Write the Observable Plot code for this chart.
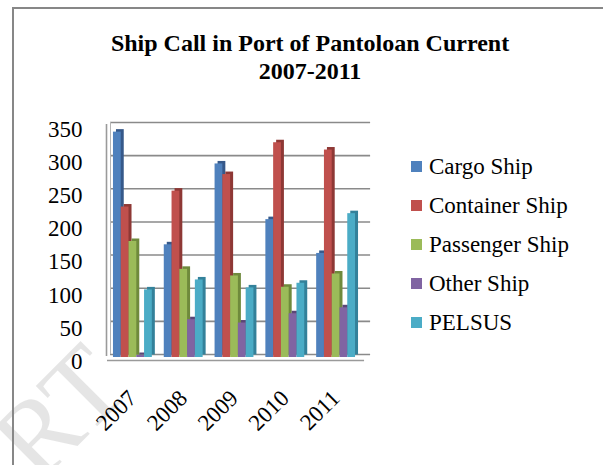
<!DOCTYPE html>
<html>
<head>
<meta charset="utf-8">
<script src="https://cdn.jsdelivr.net/npm/d3@7"></script>
<script src="https://cdn.jsdelivr.net/npm/@observablehq/plot@0.6"></script>
<style>
  html, body { margin: 0; padding: 0; background: #fff; }
  #page { position: relative; width: 603px; height: 465px; overflow: hidden; font-family: "Liberation Serif", "Times New Roman", serif; }
  #frame { position: absolute; left: 12px; top: 7px; width: 640px; height: 520px; border: 2px solid #878787; box-sizing: border-box; }
  #title { position: absolute; left: 110px; width: 400px; top: 30px; text-align: center; font-weight: bold; font-size: 24px; line-height: 27.5px; color: #000; }
  #chart { position: absolute; left: 0; top: 110px; }
  .leg { position: absolute; left: 411px; font-size: 23px; line-height: 23px; color: #000; white-space: nowrap; }
  .leg span.sw { position: absolute; left: 0; top: 6px; width: 11px; height: 11px; }
  .leg span.tx { position: absolute; left: 18px; top: 0; }
  #wm { position: absolute; left: -170px; top: 300px; font-size: 110px; color: rgba(0,0,0,0.10); transform: rotate(-45deg); transform-origin: 100% 80%; white-space: nowrap; width: 300px; text-align: right; line-height: 110px; }
</style>
</head>
<body>
<div id="page">
  <div id="wm">IJERT</div>
  <div id="frame"></div>
  <div id="title">Ship Call in Port of Pantoloan Current<br>2007-2011</div>
  <div id="chart"></div>
  <div id="legend"></div>
</div>
<script>
// ---- data ----
const years = ["2007", "2008", "2009", "2010", "2011"];
const series = ["Cargo Ship", "Container Ship", "Passenger Ship", "Other Ship", "PELSUS"];
const cargoShip = [340, 170, 292, 208, 157];
const containerShip = [227, 251, 276, 324, 313];
const passengerShip = [175, 133, 123, 106, 126];
const otherShip = [3, 57, 52, 66, 75];
const pelsus = [102, 117, 105, 112, 217];
const yTicks = [0, 50, 100, 150, 200, 250, 300, 350];

const colors = ["#4F81BD", "#C0504D", "#9BBB59", "#8064A2", "#4BACC6"];
const sideColors = ["#36598A", "#8E3835", "#6F8A3C", "#5B4677", "#33819A"];

const valuesBySeries = [cargoShip, containerShip, passengerShip, otherShip, pelsus];
const barW = 0.153; // fraction of a year group
const rows = [];
series.forEach((s, j) => {
  years.forEach((y, i) => {
    const x1 = i + (j - 2.5) * barW;
    rows.push({year: y, series: s, j, x1, x2: x1 + barW, value: valuesBySeries[j][i]});
  });
});

const chart = Plot.plot({
  width: 603,
  height: 355,
  marginLeft: 107,
  marginRight: 242,
  marginTop: 15,
  marginBottom: 108,
  x: {domain: [-0.5, 4.5], axis: null},
  y: {domain: [0, 350], axis: null},
  style: {background: "transparent", fontFamily: "Liberation Serif, Times New Roman, serif"},
  marks: [
    // back-wall gridlines (3D offset)
    Plot.ruleY(yTicks, {x1: -0.5, x2: 4.62, dx: 3, dy: -3, stroke: "#8a8a8a", strokeWidth: 1.6}),
    // left wall
    Plot.ruleX([-0.5], {y1: 0, y2: 350, dx: -1, dy: -1, stroke: "#9a9a9a", strokeWidth: 1.6}),
    Plot.ruleX([-0.5], {y1: 0, y2: 350, dx: 3, dy: -3, stroke: "#b5b5b5", strokeWidth: 1}),
    // floor front edge
    Plot.ruleY([0], {x1: -0.5, x2: 4.56, dy: 3, stroke: "#9a9a9a", strokeWidth: 1.6}),
    // bar depth (side + top)
    Plot.rectY(rows, {x1: "x1", x2: "x2", y1: 0, y2: "value", dx: 3, dy: -2.5,
      fill: d => sideColors[d.j]}),
    // bar fronts
    Plot.rectY(rows, {x1: "x1", x2: "x2", y1: 0, y2: "value",
      fill: d => colors[d.j]}),
    // y tick labels
    Plot.text(yTicks, {x: -0.5, y: d => d, text: d => String(d), textAnchor: "end",
      dx: -25, dy: 4, fontSize: 23, fill: "#000"}),
    // x tick labels (rotated)
    Plot.text(years, {x: (d, i) => i, y: 0, text: d => d, rotate: -45, textAnchor: "end",
      lineAnchor: "bottom", dx: 5, dy: 42, fontSize: 23, fill: "#000"})
  ]
});
document.getElementById("chart").appendChild(chart);

// legend
const legendTops = [155, 194, 233, 272, 311];
const legend = document.getElementById("legend");
series.forEach((s, j) => {
  const row = document.createElement("div");
  row.className = "leg";
  row.style.top = legendTops[j] + "px";
  row.innerHTML = `<span class="sw" style="background:${colors[j]}"></span><span class="tx">${s}</span>`;
  legend.appendChild(row);
});
</script>
</body>
</html>
